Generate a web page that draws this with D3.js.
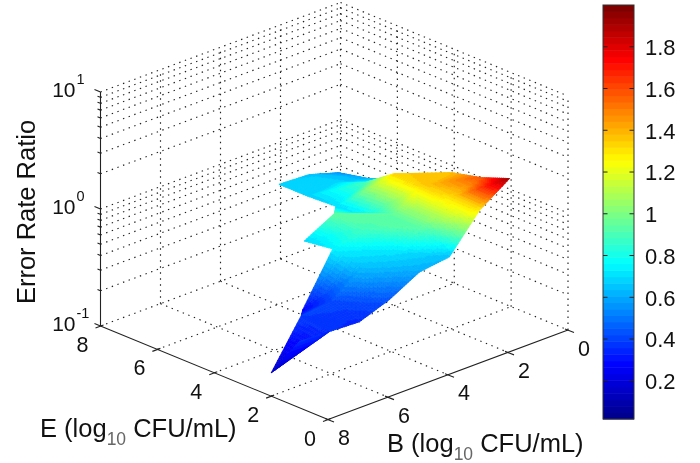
<!DOCTYPE html>
<html><head><meta charset="utf-8">
<script src="https://cdnjs.cloudflare.com/ajax/libs/d3/7.8.5/d3.min.js"></script>
<style>html,body{margin:0;background:#fff}svg{display:block;filter:blur(.35px)}text{font-family:"Liberation Sans",Arial,sans-serif;fill:#111}</style>
</head><body><svg id="c" width="700" height="463"></svg>
<script>
const bValues=[1,2,3,4,5,6,7,8];
const eValues=[1,2,3,4,5,6,7];
const ratioE1=[1.95,1.3,0.65,0.6,0.435,0.35,0.36,0.37];
const ratioE2=[1.58,1.32,0.95,0.72,0.64,0.42,0.39,0.158];
const ratioE3=[1.38,1.35,0.95,0.9,0.745,0.28,null,null];
const ratioE4=[0.95,1.34,0.74,0.95,0.69,null,null,null];
const ratioE5=[0.75,0.9,0.7,null,null,null,null,null];
const ratioE6=[0.62,0.7,0.68,null,null,null,null,null];
const ratioE7=[0.55,0.66,0.68,null,null,null,null,null];
const ratioRows=[ratioE1,ratioE2,ratioE3,ratioE4,ratioE5,ratioE6,ratioE7];
const openCellE=[3], openCellB=[5];
const axisTicks=[0,2,4,6,8];
const colorTicks=[0.2,0.4,0.6,0.8,1,1.2,1.4,1.6,1.8];
const zDecades=[{v:0.1,sup:"-1"},{v:1,sup:"0"},{v:10,sup:"1"}];
const jetStops=["#00008f","#0000ff","#00ffff","#ffff00","#ff0000","#800000"];
const jetDomain=[0,0.125,0.375,0.625,0.875,1];

const svg=d3.select("#c");
const ORIGIN=[328,419.5];
const eX=d3.scaleLinear([0,8],[0,-227.5]), eY=d3.scaleLinear([0,8],[0,-93.5]);
const bX=d3.scaleLinear([8,0],[0,240]), bY=d3.scaleLinear([8,0],[0,-89.5]);
const zS=d3.scaleLog([0.1,10],[0,-234]);
const P=(e,b,r)=>[ORIGIN[0]+eX(e)+bX(b),ORIGIN[1]+eY(e)+bY(b)+zS(r)];
const jet=d3.scaleLinear(jetDomain,jetStops).interpolate(d3.interpolateRgb);
const norm=d3.scaleLinear([0.017,2],[0,1]).clamp(true);
const colorOf=r=>jet(Math.floor(norm(r)*63.999)/63);

// grid
const grid=svg.append("g").attr("fill","none").attr("stroke","#222").attr("stroke-width",1.15).attr("stroke-dasharray","1.4 4.6");
const seg=(a,b)=>grid.append("line").attr("x1",a[0]).attr("y1",a[1]).attr("x2",b[0]).attr("y2",b[1]);
zS.ticks().forEach(z=>{seg(P(8,8,z),P(8,0,z));seg(P(8,0,z),P(0,0,z));});
[2,4,6].forEach(t=>{
  seg(P(t,8,0.1),P(t,0,0.1));seg(P(8,t,0.1),P(0,t,0.1));
  seg(P(8,t,0.1),P(8,t,10));seg(P(t,0,0.1),P(t,0,10));
});
seg(P(8,0,0.1),P(8,0,10));seg(P(0,0,0.1),P(0,0,10));

// surface
const tris=[];
const node=(i,j)=>{const r=ratioRows[i][j];return r==null?null:{e:eValues[i],b:bValues[j],r};};
for(let i=0;i<eValues.length-1;i++)for(let j=0;j<bValues.length-1;j++){
  const nn=node(i,j), fn=node(i,j+1), nf=node(i+1,j), ff=node(i+1,j+1);
  if(nn&&ff&&nf)tris.push([nn,ff,nf]);
  if(nn&&ff&&fn)tris.push([nn,ff,fn]);
  const open=openCellE.includes(eValues[i])&&openCellB.includes(bValues[j]);
  if(!ff&&nn&&nf&&fn&&!open)tris.push([nn,nf,fn]);
}
const depth=t=>d3.mean(t,n=>n.e-n.b);
tris.sort((a,b)=>depth(b)-depth(a));
const surf=svg.append("g");
const N=14;
tris.forEach(t=>{
  const at=(u,v)=>{const w=1-u-v;
    const lg=w*Math.log10(t[0].r)+u*Math.log10(t[1].r)+v*Math.log10(t[2].r);
    const e=w*t[0].e+u*t[1].e+v*t[2].e, b=w*t[0].b+u*t[1].b+v*t[2].b;
    return {p:P(e,b,Math.pow(10,lg)),r:w*t[0].r+u*t[1].r+v*t[2].r};};
  for(let a=0;a<N;a++)for(let c=0;c<N-a;c++){
    const cells=[[[a,c],[a+1,c],[a,c+1]]];
    if(a+c<N-1)cells.push([[a+1,c],[a+1,c+1],[a,c+1]]);
    cells.forEach(q=>{
      const pts=q.map(k=>at(k[0]/N,k[1]/N));
      const col=colorOf(d3.mean(pts,d=>d.r));
      surf.append("polygon").attr("points",pts.map(d=>d.p.join(",")).join(" "))
        .attr("fill",col).attr("stroke",col).attr("stroke-width",0.7);
    });
  }
});

// axes
const ax=svg.append("g").attr("stroke","#222").attr("stroke-width",1.1).attr("fill","none");
const L=(a,b)=>ax.append("line").attr("x1",a[0]).attr("y1",a[1]).attr("x2",b[0]).attr("y2",b[1]);
L(P(8,8,0.1),P(8,8,10));L(P(8,8,0.1),P(0,8,0.1));L(P(0,8,0.1),P(0,0,0.1));
zS.ticks().forEach(z=>{const p=P(8,8,z);const big=zDecades.some(d=>d.v===z);L(p,[p[0]-(big?6:3),p[1]-(big?2.5:1.2)]);});
axisTicks.forEach(t=>{const p=P(t,8,0.1);L([p[0]-5,p[1]+2],[p[0]+3,p[1]-1]);
  const q=P(0,t,0.1);L([q[0]-3,q[1]-1],[q[0]+6,q[1]+2.5]);});

const txt=(x,y,s,size,anchor)=>svg.append("text").attr("x",x).attr("y",y).attr("font-size",size).attr("text-anchor",anchor||"middle").text(s);
zDecades.forEach(d=>{const p=P(8,8,d.v);
  txt(p[0]-25,p[1]+4.5,"10",21,"end");
  txt(p[0]-24,p[1]-8,d.sup,14.5,"start");});
axisTicks.forEach(t=>{
  const p=P(t,8,0.1);txt(p[0]-18,p[1]+26,String(t),21.5);
  const q=P(0,t,0.1);txt(q[0]+16,q[1]+25.5,String(t),21.5);
});
const lab=(x,y,pre,post)=>{
  const g=svg.append("text").attr("x",x).attr("y",y).attr("font-size",25.5);
  g.append("tspan").text(pre);
  g.append("tspan").attr("dy",8).attr("font-size",17.5).style("fill","#666").text("10");
  g.append("tspan").attr("dy",-8).text(post);
};
lab(40,437,"E (log"," CFU/mL)");
lab(387,452,"B (log"," CFU/mL)");
svg.append("text").attr("transform","translate(35,212) rotate(-90)").attr("text-anchor","middle").attr("font-size",25.5).text("Error Rate Ratio");

// colour bar
const cY=d3.scaleLinear([0.017,2],[419,5]);
const cb=svg.append("g");
d3.range(64).forEach(i=>{
  const v0=0.017+(i/64)*(2-0.017), v1=0.017+((i+1)/64)*(2-0.017);
  cb.append("rect").attr("x",603).attr("width",31).attr("y",cY(v1)).attr("height",cY(v0)-cY(v1)+0.5).attr("fill",jet(i/63));
});
const caxis=d3.axisRight(cY).tickValues(colorTicks).tickFormat(d=>String(d)).tickSize(0).tickPadding(0);
const cg=svg.append("g").attr("transform","translate(634,0)").call(caxis);
cg.select(".domain").remove();
cg.selectAll("text").attr("font-size",22).attr("x",11).attr("font-family",null).attr("dy","0.36em");
colorTicks.forEach(v=>{[[603,607.5],[629.5,634]].forEach(s=>svg.append("line").attr("x1",s[0]).attr("x2",s[1]).attr("y1",cY(v)).attr("y2",cY(v)).attr("stroke","#222"));});
svg.append("rect").attr("x",603).attr("y",5).attr("width",31).attr("height",414).attr("fill","none").attr("stroke","#333").attr("stroke-width",1);
</script></body></html>
